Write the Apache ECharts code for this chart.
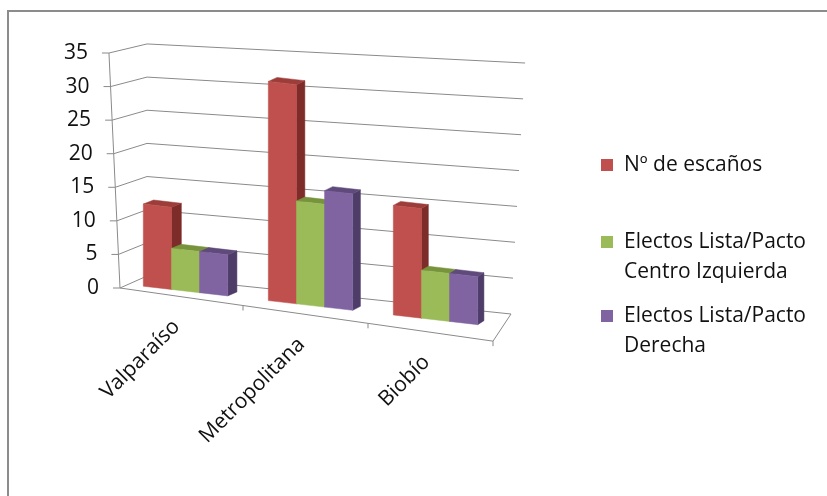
<!DOCTYPE html>
<html>
<head>
<meta charset="utf-8">
<script src="https://cdn.jsdelivr.net/npm/echarts@6/dist/echarts.min.js"></script>
<style>
  html, body { margin: 0; padding: 0; background: #fff; }
  #chart { width: 827px; height: 496px; }
</style>
</head>
<body>
<div id="chart"></div>
<script>
// data
const categories = ['Valparaíso', 'Metropolitana', 'Biobío']
const escanos = [12, 32, 16]
const centroIzquierda = [6, 15, 7]
const derecha = [6, 17, 7]
const yTicks = [0, 5, 10, 15, 20, 25, 30, 35]

const FONT = 'Open Sans'
const FONT_SIZE = 21
const GRID = '#8a8a8a'
const TEXT = '#111'

// front / top / side shades of each box
const RED = ['#C0504D', '#9C3D3A', '#7E2C2A']
const GREEN = ['#9BBB59', '#77933C', '#5F7A2B']
const PURPLE = ['#8064A2', '#5F4A7B', '#4E3D69']

// fake perspective, everything starts from the library coords
function frame (api) {
  const band = api.size([1, 0])[0]
  const o = api.coord([0, 0])
  return { band: band, left: o[0] - band / 2, zero: o[1] }
}

function barPoint (f, x, y) {
  return [x, f.zero - 4.7 + 1.02 * (y - f.zero) + 0.115 * (x - f.left + 5)]
}

function depth (f, x) {
  return 10.5 - 0.012 * (x - f.left)
}

function edgeY (f, x) {
  return f.zero + 0.1425 * (x - f.left + 3)
}

function barRender (s, cols) {
  return function (params, api) {
    const f = frame(api)
    const i = api.value(0)
    const cx = api.coord([i, 0])[0]
    const yTop = api.coord([i, api.value(1)])[1]
    const w = f.band * 0.225
    const x1 = cx - f.band * 0.3375 + s * w
    const x2 = x1 + w
    const b1 = barPoint(f, x1, f.zero)
    const b2 = barPoint(f, x2, f.zero)
    const t1 = barPoint(f, x1, yTop)
    const t2 = barPoint(f, x2, yTop)
    const d1 = depth(f, x1)
    const d2 = depth(f, x2)
    return {
      type: 'group',
      children: [
        {
          type: 'polygon',
          shape: { points: [t2, [t2[0] + d2, t2[1] - 4], [b2[0] + d2, b2[1] - 4], b2] },
          style: { fill: cols[2], stroke: cols[2], lineWidth: 0.5 }
        },
        {
          type: 'polygon',
          shape: { points: [t1, t2, [t2[0] + d2, t2[1] - 4], [t1[0] + d1, t1[1] - 4]] },
          style: { fill: cols[1], stroke: cols[1], lineWidth: 0.5 }
        },
        {
          type: 'polygon',
          shape: { points: [b1, b2, t2, t1] },
          style: { fill: cols[0], stroke: cols[0], lineWidth: 0.5 }
        }
      ]
    }
  }
}

// side wall + back wall gridlines, axis ticks and labels
function wallRender (params, api) {
  const f = frame(api)
  const v = api.value(1)
  const yv = api.coord([0, v])[1]
  const h = f.zero - yv
  const ax = [f.left - 3 - 0.047 * h, yv]
  const bl = [f.left + 24, f.zero - 12 - 0.9875 * h]
  const br = [f.left + f.band * categories.length + 13 + 0.06 * h, f.zero + 26 - 1.068 * h]
  return {
    type: 'group',
    children: [
      {
        type: 'polyline',
        shape: { points: [ax, bl, br] },
        style: { stroke: GRID, lineWidth: 1, fill: null }
      },
      {
        type: 'line',
        shape: { x1: ax[0] - 7, y1: yv, x2: ax[0], y2: yv },
        style: { stroke: GRID, lineWidth: 1 }
      },
      {
        type: 'text',
        x: ax[0] - 21,
        y: yv,
        style: { text: String(v), align: 'right', verticalAlign: 'middle', fontSize: FONT_SIZE, fontFamily: FONT, fill: TEXT }
      }
    ]
  }
}

// floor front edge, category ticks, category names, value axis line
function floorRender (params, api) {
  const f = frame(api)
  const i = api.value(0)
  const cx = api.coord([i, 0])[0]
  const xs = i === 0 ? f.left - 3 : f.left - 5 + i * f.band
  const xe = f.left - 5 + (i + 1) * f.band
  const children = [
    {
      type: 'line',
      shape: { x1: xs, y1: edgeY(f, xs), x2: xe, y2: edgeY(f, xe) },
      style: { stroke: GRID, lineWidth: 1 }
    },
    {
      type: 'line',
      shape: { x1: xe, y1: edgeY(f, xe), x2: xe, y2: edgeY(f, xe) + 5 },
      style: { stroke: GRID, lineWidth: 1 }
    },
    {
      type: 'text',
      x: cx - 9,
      y: edgeY(f, cx) + 26,
      rotation: Math.PI / 4,
      style: { text: categories[i], align: 'right', verticalAlign: 'middle', fontSize: FONT_SIZE, fontFamily: FONT, fill: TEXT }
    }
  ]
  if (i === 0) {
    const top = api.coord([0, yTicks[yTicks.length - 1]])[1]
    children.push({
      type: 'line',
      shape: { x1: f.left - 3, y1: f.zero, x2: f.left - 3 - 0.047 * (f.zero - top), y2: top },
      style: { stroke: GRID, lineWidth: 1 }
    })
  }
  if (i === categories.length - 1) {
    children.push({
      type: 'line',
      shape: { x1: xe, y1: edgeY(f, xe), x2: f.left + f.band * categories.length + 13, y2: f.zero + 26 },
      style: { stroke: GRID, lineWidth: 1 }
    })
  }
  return { type: 'group', children: children }
}

function pairs (arr) {
  return arr.map(function (v, i) { return [i, v] })
}

const legendText = { fontSize: FONT_SIZE, fontFamily: FONT, color: TEXT, lineHeight: 30, padding: [0, 0, 0, 6] }

// blank first line so the square sits next to the first text line
function firstLineOnIcon (name) {
  return ' \n' + name
}

const chart = echarts.init(document.getElementById('chart'))
chart.setOption({
  animation: false,
  graphic: [
    {
      type: 'rect',
      shape: { x: 8, y: 11, width: 900, height: 600 },
      style: { fill: null, stroke: '#8c8c8c', lineWidth: 2 },
      silent: true
    }
  ],
  grid: { left: 123, right: 329, top: 53, bottom: 208 },
  xAxis: { type: 'category', data: categories, show: false },
  yAxis: { type: 'value', min: 0, max: 35, interval: 5, show: false },
  legend: [
    {
      left: 601, top: 150, padding: 0, orient: 'vertical', itemWidth: 12, itemHeight: 12, icon: 'rect',
      textStyle: legendText,
      data: ['Nº de escaños']
    },
    {
      left: 601, top: 197, padding: 0, orient: 'vertical', itemWidth: 12, itemHeight: 12, icon: 'rect',
      textStyle: legendText,
      formatter: firstLineOnIcon,
      data: ['Electos Lista/Pacto\nCentro Izquierda']
    },
    {
      left: 601, top: 271, padding: 0, orient: 'vertical', itemWidth: 12, itemHeight: 12, icon: 'rect',
      textStyle: legendText,
      formatter: firstLineOnIcon,
      data: ['Electos Lista/Pacto\nDerecha']
    }
  ],
  series: [
    {
      type: 'custom', silent: true, z: 1,
      data: yTicks.map(function (v) { return [0, v] }),
      renderItem: wallRender
    },
    {
      type: 'custom', silent: true, z: 1,
      data: pairs(categories.map(function () { return 0 })),
      renderItem: floorRender
    },
    {
      name: 'Nº de escaños', type: 'custom', z: 2,
      itemStyle: { color: RED[0] },
      data: pairs(escanos),
      renderItem: barRender(0, RED)
    },
    {
      name: 'Electos Lista/Pacto\nCentro Izquierda', type: 'custom', z: 2,
      itemStyle: { color: GREEN[0] },
      data: pairs(centroIzquierda),
      renderItem: barRender(1, GREEN)
    },
    {
      name: 'Electos Lista/Pacto\nDerecha', type: 'custom', z: 2,
      itemStyle: { color: PURPLE[0] },
      data: pairs(derecha),
      renderItem: barRender(2, PURPLE)
    }
  ]
})
</script>
</body>
</html>
